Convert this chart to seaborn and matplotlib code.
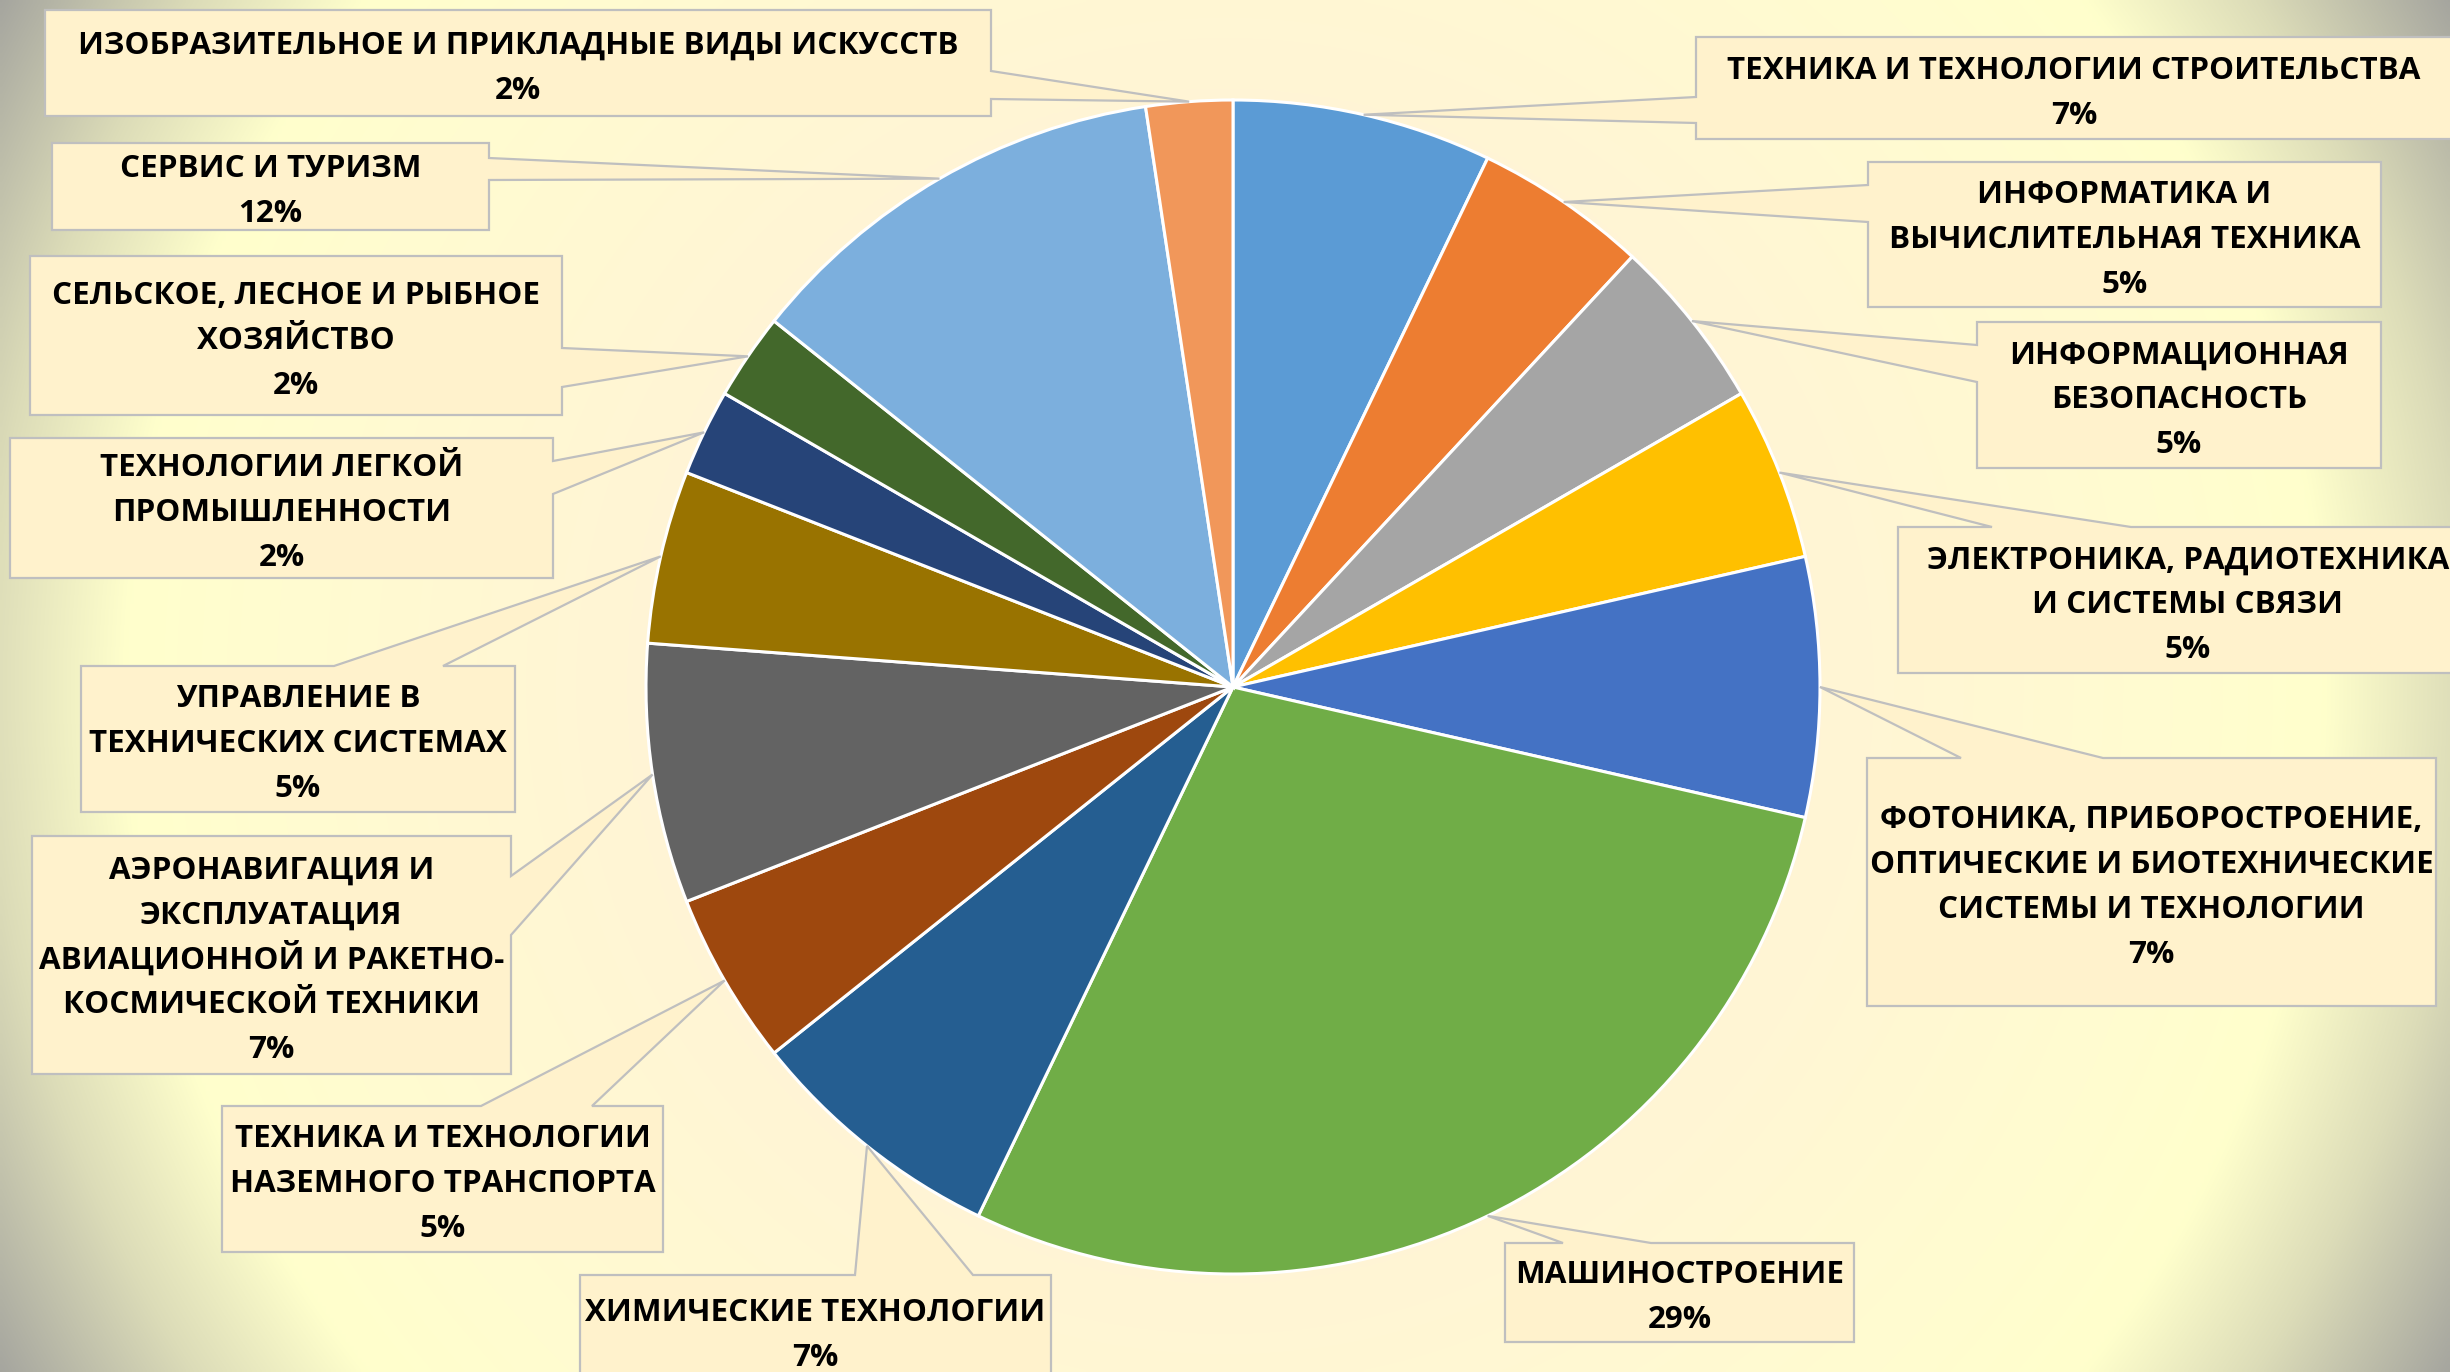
import numpy as np
import matplotlib
matplotlib.use("Agg")
import matplotlib.pyplot as plt
import seaborn as sns
from matplotlib.patches import Polygon

# ---------------- data ----------------
categories = [
    "ТЕХНИКА И ТЕХНОЛОГИИ СТРОИТЕЛЬСТВА",
    "ИНФОРМАТИКА И\nВЫЧИСЛИТЕЛЬНАЯ ТЕХНИКА",
    "ИНФОРМАЦИОННАЯ\nБЕЗОПАСНОСТЬ",
    "ЭЛЕКТРОНИКА, РАДИОТЕХНИКА\nИ СИСТЕМЫ СВЯЗИ",
    "ФОТОНИКА, ПРИБОРОСТРОЕНИЕ,\nОПТИЧЕСКИЕ И БИОТЕХНИЧЕСКИЕ\nСИСТЕМЫ И ТЕХНОЛОГИИ",
    "МАШИНОСТРОЕНИЕ",
    "ХИМИЧЕСКИЕ ТЕХНОЛОГИИ",
    "ТЕХНИКА И ТЕХНОЛОГИИ\nНАЗЕМНОГО ТРАНСПОРТА",
    "АЭРОНАВИГАЦИЯ И\nЭКСПЛУАТАЦИЯ\nАВИАЦИОННОЙ И РАКЕТНО-\nКОСМИЧЕСКОЙ ТЕХНИКИ",
    "УПРАВЛЕНИЕ В\nТЕХНИЧЕСКИХ СИСТЕМАХ",
    "ТЕХНОЛОГИИ ЛЕГКОЙ\nПРОМЫШЛЕННОСТИ",
    "СЕЛЬСКОЕ, ЛЕСНОЕ И РЫБНОЕ\nХОЗЯЙСТВО",
    "СЕРВИС И ТУРИЗМ",
    "ИЗОБРАЗИТЕЛЬНОЕ И ПРИКЛАДНЫЕ ВИДЫ ИСКУССТВ",
]
counts = [3, 2, 2, 2, 3, 12, 3, 2, 3, 2, 1, 1, 5, 1]
colors = ["#5B9BD5", "#ED7D31", "#A5A5A5", "#FFC000", "#4472C4", "#70AD47",
          "#255E91", "#9E480E", "#636363", "#997300", "#264478", "#43682B",
          "#7CAFDD", "#F1975A"]

# ---------------- layout (pixels, y downward) ----------------
W, H = 2450, 1372
CX, CY, R = 1233, 687, 587
# callout box (x0, y0, x1, y1), pointer side, pointer base positions
boxes = [
    ((1696, 37, 2452, 139), "left", 97, 123),
    ((1868, 162, 2381, 307), "left", 185, 222),
    ((1977, 322, 2381, 468), "left", 345, 382),
    ((1898, 527, 2478, 673), "top", 1992, 2131),
    ((1867, 758, 2436, 1006), "top", 1961, 2103),
    ((1505, 1243, 1854, 1342), "top", 1563, 1651),
    ((580, 1275, 1051, 1385), "top", 855, 973),
    ((222, 1106, 663, 1252), "top", 481, 592),
    ((32, 836, 511, 1074), "right", 876, 935),
    ((81, 666, 515, 812), "top", 334, 443),
    ((10, 438, 553, 578), "right", 461, 494),
    ((30, 256, 562, 415), "right", 348, 387),
    ((52, 143, 489, 230), "right", 158, 180),
    ((45, 10, 991, 116), "right", 71, 99),
]
FS = 22.6
LINE_GAP = 45
BOX_FACE = "#FFF2CC"
BOX_EDGE = "#BFBFBF"

sns.set_theme(style="white")
plt.rcParams["font.family"] = ["Open Sans", "DejaVu Sans"]

fig = plt.figure(figsize=(24.5, 13.72), dpi=100)
ax = fig.add_axes([0, 0, 1, 1])

# background radial gradient
gx = np.linspace(0, W, 613)
gy = np.linspace(0, H, 344)
X, Y = np.meshgrid(gx, gy)
d = np.hypot(X - W / 2, Y - H / 2)
stop_d = [0, 600, 950, 1100, 1240, 1410]
stop_c = [(255, 242, 216), (255, 245, 213), (255, 252, 208), (255, 255, 204),
          (220, 220, 184), (164, 164, 158)]
rgb = np.stack([np.interp(d, stop_d, [c[i] for c in stop_c]) for i in range(3)], -1) / 255
ax.imshow(rgb, extent=(0, W, 0, H), origin="upper", zorder=0,
          interpolation="bilinear", aspect="auto")

# pie
wedges, _ = ax.pie(counts, colors=colors, startangle=90, counterclock=False,
                   center=(CX, H - CY), radius=R, frame=True,
                   wedgeprops=dict(edgecolor="white", linewidth=2.2, zorder=2))

total = sum(counts)
for w, name, cnt, (bx, side, b1, b2) in zip(wedges, categories, counts, boxes):
    th = np.deg2rad((w.theta1 + w.theta2) / 2)
    tx = CX + R * np.cos(th)
    ty = H - (H - CY + R * np.sin(th))  # pixel y (down)
    x0, y0, x1, y1 = bx
    if side == "top":
        pts = [(x0, y0), (b1, y0), (tx, ty), (b2, y0), (x1, y0), (x1, y1), (x0, y1)]
    elif side == "right":
        pts = [(x0, y0), (x1, y0), (x1, b1), (tx, ty), (x1, b2), (x1, y1), (x0, y1)]
    else:
        pts = [(x0, y0), (x1, y0), (x1, y1), (x0, y1), (x0, b2), (tx, ty), (x0, b1)]
    pts = [(px, H - py) for px, py in pts]
    ax.add_patch(Polygon(pts, closed=True, facecolor=BOX_FACE, edgecolor=BOX_EDGE,
                         linewidth=1.6, zorder=3, joinstyle="miter"))
    lines = name.split("\n") + [f"{round(100 * cnt / total)}%"]
    n = len(lines)
    ccx = (x0 + x1) / 2
    ccy = (y0 + y1) / 2 + 2
    cap = 0.714 * FS * 100 / 72
    for j, ln in enumerate(lines):
        yc = ccy + (j - (n - 1) / 2) * LINE_GAP
        ax.text(ccx, H - (yc + cap / 2), ln, ha="center", va="baseline",
                fontsize=FS, fontweight="bold", color="black", zorder=4)

ax.set_xlim(0, W)
ax.set_ylim(0, H)
ax.axis("off")
fig.savefig("out.png", dpi=100)
